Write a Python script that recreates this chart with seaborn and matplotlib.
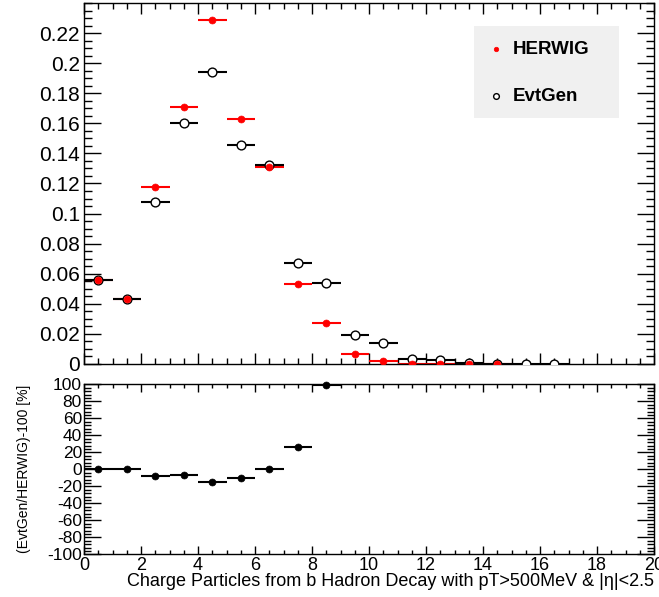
import matplotlib
matplotlib.use("Agg")
import matplotlib.pyplot as plt
import seaborn as sns
import numpy as np
from matplotlib.ticker import MultipleLocator, AutoMinorLocator
from matplotlib.patches import Rectangle

# bin values (bins of width 1 starting at 0)
herwig = [0.0558, 0.0432, 0.1176, 0.1708, 0.2286, 0.1628, 0.1310, 0.0534,
          0.0270, 0.0066, 0.0020, 0.0003, 0.0003, 0.0001, 0.0001]
evtgen = [0.0560, 0.0432, 0.1076, 0.1600, 0.1940, 0.1455, 0.1322, 0.0671,
          0.0536, 0.0195, 0.0137, 0.0033, 0.0025, 0.0005, 0.0003, 0.0001, 0.0001]
ratio = [1, 0, -8, -6, -15, -10.5, 1, 26, 99]

x_herwig = np.arange(len(herwig)) + 0.5
x_evtgen = np.arange(len(evtgen)) + 0.5
x_ratio = np.arange(len(ratio)) + 0.5

sns.set_style("ticks")
plt.rcParams['font.family'] = ['Liberation Sans', 'DejaVu Sans']
plt.rcParams['axes.unicode_minus'] = False
plt.rcParams['text.color'] = 'black'
plt.rcParams['axes.labelcolor'] = 'black'

fig = plt.figure(figsize=(6.59, 5.97), dpi=100)
ax = fig.add_axes([0.1275, 0.3903, 0.865, 0.6047])
ax2 = fig.add_axes([0.1275, 0.0712, 0.865, 0.2848])

# top panel
ax.errorbar(x_herwig, herwig, xerr=0.5, fmt='none', ecolor='red', elinewidth=1.5, zorder=2)
ax.errorbar(x_evtgen, evtgen, xerr=0.5, fmt='none', ecolor='black', elinewidth=1.5, zorder=3)
sns.scatterplot(x=x_evtgen, y=evtgen, ax=ax, s=40, facecolor='white', edgecolor='black',
                linewidth=1, zorder=4, label='EvtGen')
sns.scatterplot(x=x_herwig, y=herwig, ax=ax, s=25, color='red', edgecolor='red',
                linewidth=0.5, zorder=5, label='HERWIG')

ax.set_xlim(0, 20)
ax.set_ylim(0, 0.24)
ax.xaxis.set_major_locator(MultipleLocator(2))
ax.xaxis.set_minor_locator(MultipleLocator(0.5))
ax.yaxis.set_minor_locator(MultipleLocator(0.005))
ax.set_yticks(np.arange(0, 0.221, 0.02))
ax.set_yticklabels(['0'] + [f'{v:g}' for v in np.arange(0.02, 0.221, 0.02).round(2)])
ax.tick_params(axis='both', which='both', direction='in', top=True, right=True,
               labelbottom=False, width=1, colors='black')
ax.tick_params(axis='y', which='major', length=12, labelsize=15, pad=3)
ax.tick_params(axis='y', which='minor', length=6)
ax.tick_params(axis='x', which='major', length=8)
ax.tick_params(axis='x', which='minor', length=4)
for s in ax.spines.values():
    s.set_linewidth(1)
    s.set_color('black')

# legend with grey box
ax.add_patch(Rectangle((0.684, 0.681), 0.2546, 0.255, transform=ax.transAxes,
                       facecolor='#f0f0f0', edgecolor='none', zorder=1))
handles, labels = ax.get_legend_handles_labels()
order = [labels.index('HERWIG'), labels.index('EvtGen')]
leg = ax.legend([handles[i] for i in order], [labels[i] for i in order],
                loc='upper left', bbox_to_anchor=(0.697, 0.916), frameon=False,
                prop={'weight': 'bold', 'size': 13.5}, handlelength=0.8,
                handletextpad=0.45, labelspacing=1.58, borderaxespad=0,
                markerscale=0.65)

# ratio panel
ax2.errorbar(x_ratio, ratio, xerr=0.5, fmt='none', ecolor='black', elinewidth=1.5, zorder=3)
sns.scatterplot(x=x_ratio, y=ratio, ax=ax2, s=25, color='black', edgecolor='black',
                linewidth=0.5, zorder=4, clip_on=False)
ax2.set_xlim(0, 20)
ax2.set_ylim(-100, 100)
ax2.xaxis.set_major_locator(MultipleLocator(2))
ax2.xaxis.set_minor_locator(MultipleLocator(0.5))
ax2.yaxis.set_major_locator(MultipleLocator(20))
ax2.yaxis.set_minor_locator(AutoMinorLocator(5))
ax2.tick_params(axis='both', which='both', direction='in', top=True, right=True,
                width=1, colors='black')
ax2.tick_params(axis='y', which='major', length=12, labelsize=12.5, pad=1.5)
ax2.tick_params(axis='y', which='minor', length=5)
ax2.tick_params(axis='x', which='major', length=6, labelsize=13, pad=2)
ax2.tick_params(axis='x', which='minor', length=3)
for s in ax2.spines.values():
    s.set_linewidth(1)
    s.set_color('black')
ax2.set_xlabel('Charge Particles from b Hadron Decay with pT>500MeV & |η|<2.5',
               fontsize=13, loc='right', labelpad=-0.7)
ax2.set_ylabel('(EvtGen/HERWIG)-100 [%]', fontsize=10, loc='top', labelpad=12)

fig.savefig('out.png', dpi=100)
